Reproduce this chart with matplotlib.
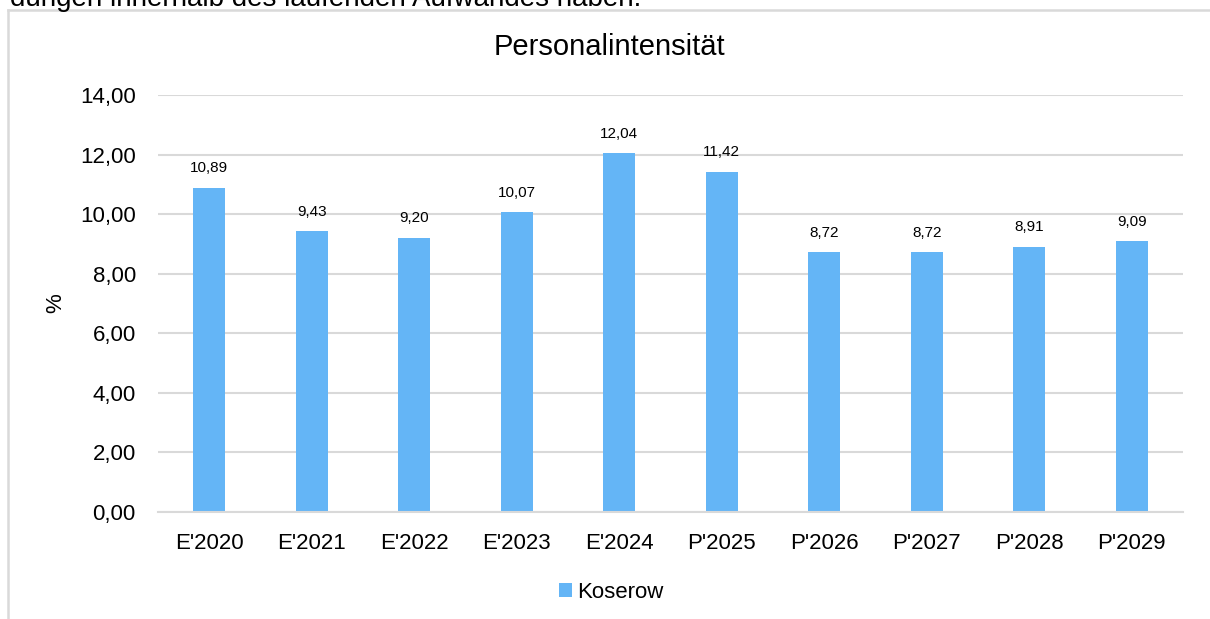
import matplotlib.pyplot as plt
from matplotlib.lines import Line2D

plt.rcParams['font.family'] = ['Liberation Sans', 'DejaVu Sans']

# data
years = ["E'2020", "E'2021", "E'2022", "E'2023", "E'2024",
         "P'2025", "P'2026", "P'2027", "P'2028", "P'2029"]
koserow = [10.89, 9.43, 9.20, 10.07, 12.04, 11.42, 8.72, 8.72, 8.91, 9.09]
yticks = [0, 2, 4, 6, 8, 10, 12, 14]

bar_color = '#64B5F6'
grid_color = '#d9d9d9'

fig = plt.figure(figsize=(12.1, 6.19), dpi=100)
ax = fig.add_axes([0.1306, 0.1729, 0.8471, 0.6736])

x = range(len(years))
bars = ax.bar(x, koserow, width=0.31, color=bar_color, label='Koserow', zorder=3)

for xi, v in zip(x, koserow):
    ax.annotate(f'{v:.2f}'.replace('.', ','), (xi, v), xytext=(0, 9),
                textcoords='offset points', ha='center', va='bottom', fontsize=11)

ax.set_xlim(-0.5, len(years) - 0.5)
ax.set_ylim(0, 14)
ax.set_yticks(yticks)
ax.set_yticklabels([f'{t:.2f}'.replace('.', ',') for t in yticks])
ax.set_xticks(list(x))
ax.set_xticklabels(years)
ax.tick_params(axis='both', length=0, labelsize=16)
ax.tick_params(axis='y', pad=16)
ax.tick_params(axis='x', pad=15)

ax.grid(axis='y', color=grid_color, linewidth=1.5, zorder=0)
for s in ['top', 'right', 'left']:
    ax.spines[s].set_visible(False)
ax.spines['bottom'].set_color(grid_color)
ax.spines['bottom'].set_linewidth(1.5)
ax.spines['bottom'].set_zorder(4)

ax.set_ylabel('%', fontsize=16, labelpad=10)
fig.text(0.504, 1 - 47 / 619, 'Personalintensität', ha='center', va='center', fontsize=21)

fig.legend(handles=[bars], labels=['Koserow'], loc='center', bbox_to_anchor=(0.505, 0.043),
           frameon=False, fontsize=16, handlelength=0.6, handleheight=0.6,
           handletextpad=0.2)

# cut-off document text above the chart, then the chart frame
fig.text(10 / 1210, 1 - 6 / 619, 'dungen innerhalb des laufenden Aufwandes haben.',
         ha='left', va='baseline', fontsize=20)
fig.add_artist(Line2D([8 / 1210, 1.0], [1 - 10 / 619, 1 - 10 / 619],
                      transform=fig.transFigure, color=grid_color, linewidth=1.8))
fig.add_artist(Line2D([8 / 1210, 8 / 1210], [0, 1 - 10 / 619],
                      transform=fig.transFigure, color=grid_color, linewidth=1.8))

fig.savefig('out.png', dpi=100)
